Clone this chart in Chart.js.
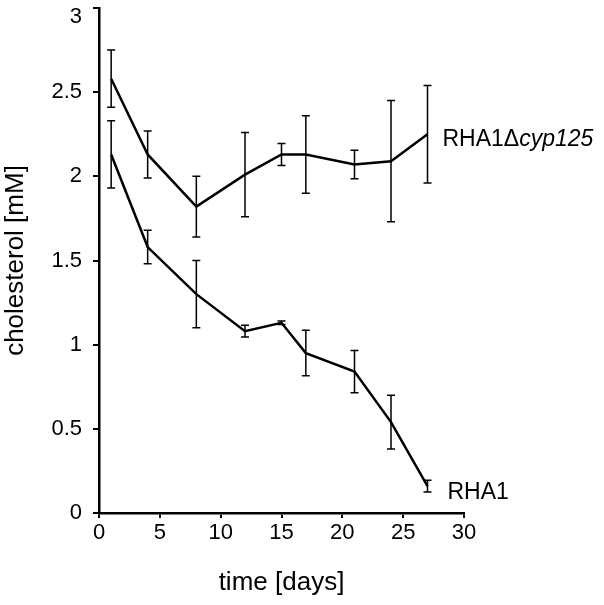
<!DOCTYPE html>
<html>
<head>
<meta charset="utf-8">
<script src="https://cdn.jsdelivr.net/npm/chart.js@4"></script>
<style>
  body { margin: 0; background: #fff; }
  #wrap { width: 604px; height: 605px; }
</style>
</head>
<body>
<div id="wrap"><canvas id="myChart" width="604" height="605"></canvas></div>
<script>
/* datos */
const dias = [1, 4, 8, 12, 15, 17, 21, 24, 27];
const mutante = [2.58, 2.13, 1.82, 2.01, 2.13, 2.13, 2.07, 2.09, 2.25]; // RHA1Δcyp125
const mutanteError = [0.17, 0.14, 0.18, 0.25, 0.065, 0.23, 0.085, 0.36, 0.29];
const silvestre = [2.13, 1.58, 1.30, 1.08, 1.13, 0.95, 0.84, 0.54, 0.16]; // RHA1
const silvestreError = [0.20, 0.10, 0.20, 0.035, 0.01, 0.135, 0.125, 0.16, 0.035];
const ticksX = [0, 5, 10, 15, 20, 25, 30];
const ticksY = [0, 0.5, 1, 1.5, 2, 2.5, 3];

const fuente = "'Liberation Sans', Arial, sans-serif";

function puntos(valores) {
  return dias.map((d, i) => ({ x: d, y: valores[i] }));
}

/* barras de error y etiquetas al final de cada linea */
const pluginErrores = {
  id: 'errores',
  afterDatasetsDraw(chart) {
    const ctx = chart.ctx;
    const x = chart.scales.x;
    const y = chart.scales.y;
    const series = [[mutante, mutanteError], [silvestre, silvestreError]];
    ctx.save();
    ctx.strokeStyle = '#000';
    ctx.lineWidth = 1.5;
    series.forEach(([valores, errores]) => {
      dias.forEach((d, i) => {
        const px = x.getPixelForValue(d);
        const arriba = y.getPixelForValue(valores[i] + errores[i]);
        const abajo = y.getPixelForValue(valores[i] - errores[i]);
        ctx.beginPath();
        ctx.moveTo(px, arriba);
        ctx.lineTo(px, abajo);
        ctx.moveTo(px - 4, arriba);
        ctx.lineTo(px + 4, arriba);
        ctx.moveTo(px - 4, abajo);
        ctx.lineTo(px + 4, abajo);
        ctx.stroke();
      });
    });

    const ultimo = dias.length - 1;
    ctx.fillStyle = '#000';
    ctx.textBaseline = 'middle';
    ctx.textAlign = 'left';
    // RHA1Δcyp125
    let lx = x.getPixelForValue(dias[ultimo]) + 15;
    let ly = y.getPixelForValue(mutante[ultimo]) + 5;
    ctx.font = '23px ' + fuente;
    ctx.fillText('RHA1Δ', lx, ly);
    const ancho = ctx.measureText('RHA1Δ').width;
    ctx.font = 'italic 23px ' + fuente;
    ctx.fillText('cyp125', lx + ancho, ly);
    // RHA1
    lx = x.getPixelForValue(dias[ultimo]) + 20;
    ly = y.getPixelForValue(silvestre[ultimo]) + 7;
    ctx.font = '23px ' + fuente;
    ctx.fillText('RHA1', lx, ly);

    // el "3" del eje y va un poco mas abajo que su marca
    const tope = ticksY[ticksY.length - 1];
    ctx.font = '22px ' + fuente;
    ctx.textAlign = 'right';
    ctx.fillText(String(tope), y.right - 6 - 11, y.getPixelForValue(tope) + 9);
    ctx.restore();
  }
};

const config = {
  type: 'line',
  data: {
    datasets: [
      { label: 'RHA1Δcyp125', data: puntos(mutante) },
      { label: 'RHA1', data: puntos(silvestre) }
    ]
  },
  options: {
    responsive: false,
    animation: false,
    layout: { padding: { top: 8, right: 140, left: 0, bottom: 0 } },
    elements: {
      line: { borderColor: '#000', borderWidth: 2.5, tension: 0 },
      point: { radius: 0 }
    },
    plugins: { legend: { display: false }, tooltip: { enabled: false } },
    scales: {
      x: {
        type: 'linear',
        min: 0,
        max: 30,
        afterBuildTicks: (s) => { s.ticks = ticksX.map(v => ({ value: v })); },
        afterFit: (s) => { s.height = 92; },
        ticks: { color: '#000', font: { family: fuente, size: 22 }, padding: 2, maxRotation: 0 },
        grid: { display: true, drawOnChartArea: false, drawTicks: true, tickLength: 5, color: '#000', lineWidth: 2 },
        border: { display: true, color: '#000', width: 2.5 },
        title: { display: true, text: 'time [days]', color: '#000', font: { family: fuente, size: 26 }, padding: { top: 0, bottom: 7 } }
      },
      y: {
        min: 0,
        max: 3,
        afterBuildTicks: (s) => { s.ticks = ticksY.map(v => ({ value: v })); },
        afterFit: (s) => { s.width = 99; s.paddingTop = 0; },
        ticks: {
          color: '#000',
          font: { family: fuente, size: 22 },
          padding: 11,
          callback: (v) => (v === ticksY[ticksY.length - 1] ? '' : String(v))
        },
        grid: { display: true, drawOnChartArea: false, drawTicks: true, tickLength: 6, color: '#000', lineWidth: 2 },
        border: { display: true, color: '#000', width: 2.5 },
        title: { display: true, text: 'cholesterol [mM]', color: '#000', font: { family: fuente, size: 26 }, padding: { top: 0, bottom: 0 } }
      }
    }
  },
  plugins: [pluginErrores]
};

new Chart(document.getElementById('myChart'), config);
</script>
</body>
</html>
